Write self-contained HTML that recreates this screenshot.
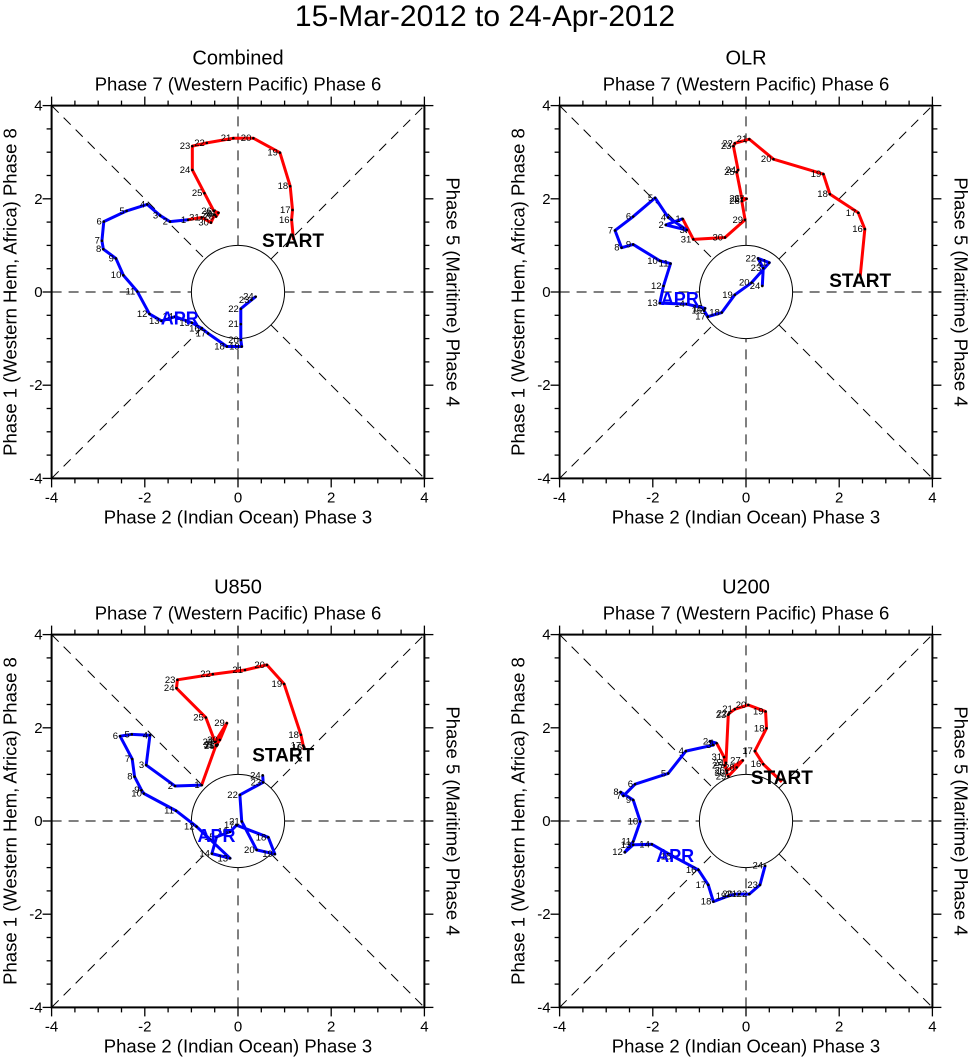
<!DOCTYPE html>
<html><head><meta charset="utf-8"><style>
body{margin:0;background:#fff}
svg{display:block;font-family:"Liberation Sans",sans-serif}
</style></head><body>
<svg id="s" width="971" height="1059" viewBox="0 0 971 1059">
<text x="485" y="26" font-size="30" text-anchor="middle">15-Mar-2012 to 24-Apr-2012</text>
</svg>
<script>
// Panel data (RMM1, RMM2), red = 15..31 Mar, blue = 1..24 Apr
const panelTitles=["Combined","OLR","U850","U200"];
const redDays=[15,16,17,18,19,20,21,22,23,24,25,26,27,28,29,30,31];
const blueDays=[1,2,3,4,5,6,7,8,9,10,11,12,13,14,15,16,17,18,19,20,21,22,23,24];
const red1X=[1.19,1.15,1.17,1.12,0.90,0.33,-0.10,-0.67,-0.98,-0.98,-0.72,-0.52,-0.42,-0.47,-0.50,-0.58,-0.78];
const red1Y=[1.12,1.55,1.76,2.27,2.99,3.30,3.30,3.20,3.13,2.62,2.12,1.74,1.70,1.62,1.66,1.49,1.60];
const blue1X=[-1.07,-1.46,-1.67,-1.95,-2.39,-2.88,-2.92,-2.89,-2.62,-2.46,-2.16,-1.90,-1.64,-1.35,-0.99,-0.78,-0.64,-0.24,0.08,0.06,0.06,0.06,0.29,0.38];
const blue1Y=[1.55,1.51,1.64,1.88,1.74,1.51,1.10,0.92,0.72,0.36,0.01,-0.47,-0.62,-0.53,-0.66,-0.78,-0.89,-1.17,-1.17,-1.03,-0.69,-0.36,-0.17,-0.10];
const red2X=[2.45,2.55,2.41,1.80,1.66,0.59,0.07,-0.24,-0.27,-0.17,-0.20,-0.09,0.01,-0.09,-0.02,-0.45,-1.13];
const red2Y=[0.33,1.35,1.70,2.10,2.53,2.85,3.28,3.19,3.13,2.62,2.57,2.01,2.00,1.95,1.55,1.17,1.13];
const blue2X=[-1.36,-1.72,-1.27,-1.67,-1.95,-2.42,-2.81,-2.67,-2.42,-1.85,-1.62,-1.77,-1.85,-1.27,-0.88,-0.90,-0.82,-0.52,-0.24,0.12,0.50,0.26,0.37,0.35];
const blue2Y=[1.57,1.44,1.33,1.60,2.02,1.62,1.32,0.95,1.02,0.67,0.61,0.13,-0.24,-0.26,-0.35,-0.40,-0.53,-0.44,-0.06,0.20,0.63,0.72,0.51,0.13];
const red3X=[1.40,1.42,1.40,1.35,0.99,0.62,0.15,-0.54,-1.30,-1.32,-0.69,-0.46,-0.44,-0.49,-0.24,-0.39,-0.47];
const red3Y=[1.53,1.58,1.62,1.85,2.94,3.35,3.24,3.15,3.03,2.85,2.22,1.61,1.64,1.70,2.10,1.74,1.63];
const blue3X=[-0.78,-1.35,-1.97,-1.89,-2.28,-2.53,-2.27,-2.22,-2.07,-2.02,-1.33,-0.89,-0.17,-0.56,-0.46,-0.17,-0.03,0.65,0.79,0.40,0.08,0.04,0.54,0.53];
const blue3Y=[0.77,0.75,1.20,1.84,1.86,1.82,1.33,0.95,0.66,0.59,0.22,-0.12,-0.80,-0.70,-0.34,-0.23,-0.09,-0.35,-0.71,-0.62,-0.01,0.56,0.83,0.98];
const red4X=[0.77,0.37,0.19,0.44,0.42,0.05,-0.24,-0.36,-0.38,-0.43,-0.46,-0.41,-0.07,-0.20,-0.38,-0.41,-0.47];
const red4Y=[0.84,1.22,1.50,1.99,2.35,2.49,2.40,2.31,2.28,1.25,1.19,1.08,1.30,1.15,0.96,1.03,1.37];
const blue4X=[-0.63,-0.77,-0.70,-1.29,-1.67,-2.38,-2.63,-2.69,-2.42,-2.27,-2.42,-2.60,-2.42,-2.02,-1.56,-1.02,-0.81,-0.70,-0.38,-0.24,-0.15,0.07,0.30,0.41];
const blue4Y=[1.67,1.71,1.63,1.50,1.02,0.79,0.54,0.62,0.45,-0.01,-0.44,-0.67,-0.51,-0.50,-0.76,-1.05,-1.37,-1.73,-1.61,-1.57,-1.57,-1.57,-1.37,-0.96];
const aprX=[-1.25,-1.42,-0.46,-1.52], aprY=[-0.55,-0.13,-0.30,-0.73];
const startX=[1.18,2.45,0.97,0.77], startY=[1.12,0.26,1.43,0.94];
const tickVals=[-4,-2,0,2,4];
const tickLabels=["-4","-2","0","2","4"];

const NS="http://www.w3.org/2000/svg";
const svg=document.getElementById('s');
function mk(tag,attrs,parent,txt){const e=document.createElementNS(NS,tag);for(const k in attrs)e.setAttribute(k,attrs[k]);if(txt!==undefined)e.textContent=txt;(parent||svg).appendChild(e);return e;}
const origins=[[238,292],[746,292],[238,821],[746,821]];
const U=46.6;
const reds=[[red1X,red1Y],[red2X,red2Y],[red3X,red3Y],[red4X,red4Y]];
const blues=[[blue1X,blue1Y],[blue2X,blue2Y],[blue3X,blue3Y],[blue4X,blue4Y]];
for(let p=0;p<4;p++){
  const [ox,oy]=origins[p];
  const sx=v=>ox+v*U, sy=v=>oy-v*U;
  const g=mk('g',{});
  
  
  const L=sx(-4),R=sx(4),T=sy(4),B=sy(-4);
  const dash={stroke:'#000','stroke-width':1,'stroke-dasharray':'10,7',fill:'none'};
  const segs=[[-4,0,-1,0],[1,0,4,0],[0,-4,0,-1],[0,1,0,4]];
  const c=Math.SQRT1_2;
  segs.push([-4,-4,-c,-c],[c,c,4,4],[-4,4,-c,c],[c,-c,4,-4]);
  segs.forEach(s=>{const l=mk('line',Object.assign({x1:sx(s[0]),y1:sy(s[1]),x2:sx(s[2]),y2:sy(s[3])},dash),g);});
  const ci=mk('circle',{cx:ox,cy:oy,r:U,fill:'none',stroke:'#000','stroke-width':1},g);
  
  const fr=mk('rect',{x:L,y:T,width:R-L,height:B-T,fill:'none',stroke:'#000','stroke-width':2},g);
  
  for(let v=-4;v<=4;v+=0.5){
    const major=(v%2===0), len=major?9:5;
    mk('line',{x1:sx(v),y1:B,x2:sx(v),y2:B+len,stroke:'#000','stroke-width':1.3},g);
    mk('line',{x1:sx(v),y1:T,x2:sx(v),y2:T-len,stroke:'#000','stroke-width':1.3},g);
    mk('line',{x1:L,y1:sy(v),x2:L-len,y2:sy(v),stroke:'#000','stroke-width':1.3},g);
    mk('line',{x1:R,y1:sy(v),x2:R+len,y2:sy(v),stroke:'#000','stroke-width':1.3},g);
  }
  tickVals.forEach((v,i)=>{
    const t=mk('text',{x:sx(v),y:B+24,'font-size':15,'text-anchor':'middle'},g,tickLabels[i]);
    
    const t2=mk('text',{x:L-9,y:sy(v)+5,'font-size':15,'text-anchor':'end'},g,tickLabels[i]);
    
  });
  const tt=mk('text',{x:ox,y:T-41,'font-size':20,'text-anchor':'middle'},g,panelTitles[p]);
  
  const t7=mk('text',{x:ox,y:T-15,'font-size':18.5,'text-anchor':'middle'},g,'Phase 7 (Western Pacific) Phase 6');
  
  const t2b=mk('text',{x:ox,y:B+45,'font-size':18.5,'text-anchor':'middle'},g,'Phase 2 (Indian Ocean) Phase 3');
  
  const tl=mk('text',{x:0,y:0,'font-size':18.5,'text-anchor':'middle',transform:`translate(${L-35},${oy}) rotate(-90)`},g,'Phase 1 (Western Hem, Africa) Phase 8');
  
  const tr=mk('text',{x:0,y:0,'font-size':18.5,'text-anchor':'middle',transform:`translate(${R+22},${oy}) rotate(90)`},g,'Phase 5 (Maritime) Phase 4');
  
  const [rx,ry]=reds[p],[bx,by]=blues[p];
  let rp=rx.map((v,i)=>sx(v)+','+sy(ry[i])).join(' ');
  rp+=' '+sx(bx[0])+','+sy(by[0]);
  const rl=mk('polyline',{points:rp,fill:'none',stroke:'#f00','stroke-width':3,'stroke-linejoin':'round'},g);
  
  const bp=bx.map((v,i)=>sx(v)+','+sy(by[i])).join(' ');
  const bl=mk('polyline',{points:bp,fill:'none',stroke:'#00f','stroke-width':3,'stroke-linejoin':'round'},g);
  
  const pts=[];
  rx.forEach((v,i)=>pts.push([v,ry[i],redDays[i]]));
  bx.forEach((v,i)=>pts.push([v,by[i],blueDays[i]]));
  pts.forEach((q,i)=>{
    if(i===0)return;
    const d=mk('circle',{cx:sx(q[0]),cy:sy(q[1]),r:1.3,fill:'#000'},g);
    
    const t=mk('text',{x:sx(q[0])-2,y:sy(q[1])+3,'font-size':9.5,'text-anchor':'end'},g,String(q[2]));
    
  });
  const st=mk('text',{x:sx(startX[p]),y:sy(startY[p])+7,'font-size':19,'font-weight':'bold','text-anchor':'middle',fill:'#000'},g,'START');
  
  const ap=mk('text',{x:sx(aprX[p]),y:sy(aprY[p])+7,'font-size':18,'font-weight':'bold','text-anchor':'middle',fill:'#00f'},g,'APR');
  
}
</script>
</body></html>
